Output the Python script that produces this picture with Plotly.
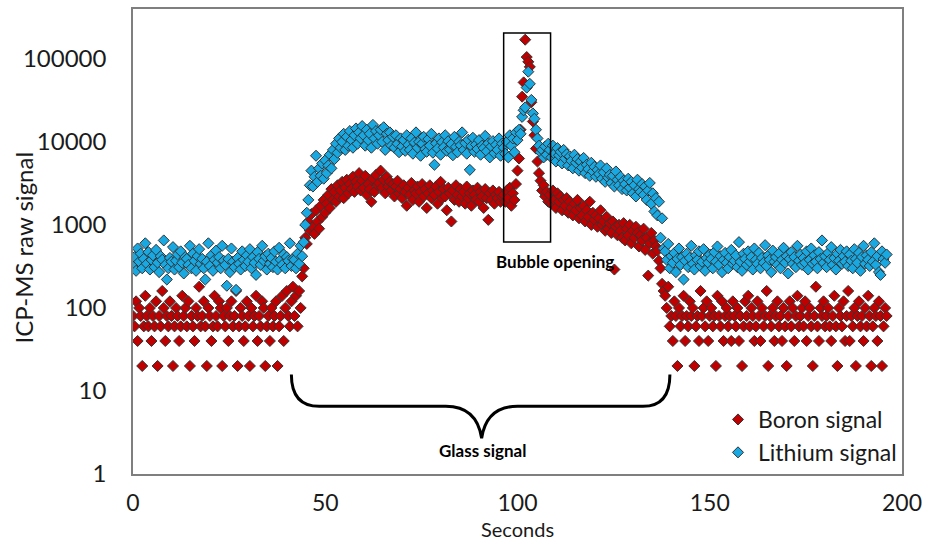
import plotly.graph_objects as go

# ---------------- data ----------------
# sampling grid: one reading every 0.4 s from 0 to 196 s
seconds = [round(i * 0.4, 1) for i in range(491)]

# Lithium signal, background before ablation (0 - 41.6 s)
li_background_1 = [
    320, 410, 280, 520, 360, 450, 300, 390, 600, 340, 470, 290, 380, 430, 310,
    500, 350, 270, 420, 380, 650, 330, 220, 300, 400, 360, 540, 290, 370, 440,
    310, 480, 350, 260, 410, 390, 330, 560, 300, 450, 370, 280, 420, 510, 340,
    390, 300, 220, 360, 600, 320, 430, 280, 380, 490, 350, 410, 300, 560, 370,
    330, 185, 390, 270, 520, 360, 310, 165, 400, 340, 290, 480, 380, 320, 430,
    360, 510, 300, 410, 350, 250, 470, 390, 330, 560, 370, 420, 290, 450, 340,
    400, 310, 480, 360, 290, 530, 380, 330, 440, 300, 410, 370, 600, 320, 390,
]
# Boron signal, background before ablation (0 - 41.6 s)
b_background_1 = [
    80, 60, 120, 40, 100, 80, 20, 60, 140, 80, 60, 100, 40, 80, 60,
    120, 20, 80, 60, 160, 100, 40, 80, 60, 120, 80, 20, 60, 100, 80,
    40, 60, 140, 80, 100, 60, 120, 20, 80, 60, 40, 100, 80, 180, 60,
    80, 120, 60, 20, 100, 80, 40, 60, 140, 80, 60, 120, 100, 20, 80,
    60, 100, 40, 80, 120, 60, 80, 160, 20, 60, 100, 80, 40, 60, 120,
    80, 20, 100, 60, 80, 140, 40, 80, 60, 120, 100, 20, 60, 80, 40,
    100, 60, 80, 120, 20, 60, 80, 140, 40, 100, 160, 80, 60, 120, 180,
]

# Glass signal (42.0 - 96.0 s)
li_glass = [
    380, 300, 450, 340, 560, 420, 620, 1000, 1400, 2000,
    3000, 4500, 2900, 3800, 6800, 3300, 4800, 3900, 5500, 3600,
    6000, 4200, 5200, 7000, 4800, 8000, 6200, 9500, 7400, 11000,
    8500, 10000, 12500, 8000, 11500, 9000, 13500, 10500, 8500, 12000,
    14500, 9500, 13000, 11000, 15500, 12000, 9000, 14000, 10500, 12500,
    8500, 16000, 11000, 13500, 9500, 12000, 14000, 10000, 15000, 8000,
    12500, 10500, 13000, 9000, 11500, 8500, 12000, 9500, 7500, 11000,
    8800, 10500, 7800, 12000, 9200, 8000, 11000, 7200, 9800, 13000,
    8500, 10000, 6800, 9500, 11500, 8200, 7600, 10800, 9000, 12500,
    7400, 5300, 9600, 8300, 11000, 7000, 9900, 8600, 12000, 7800,
    10200, 8100, 9400, 6900, 11500, 8700, 7500, 10000, 9100, 13000,
    8000, 9700, 7200, 10600, 4600, 8900, 11200, 7600, 9300, 8200,
    10500, 7000, 9000, 8400, 11800, 7700, 9600, 6500, 8800, 10200,
    7300, 9200, 8000, 11000, 6800, 9500,
]
b_glass = [
    80, 140, 60, 160, 100, 240, 300, 700, 590, 1100,
    850, 1350, 950, 780, 1500, 1100, 900, 1700, 1250, 2000,
    1400, 1800, 2300, 1600, 2700, 2000, 2500, 1900, 3000, 2200,
    2600, 3300, 2100, 2800, 3500, 2400, 3100, 2700, 3800, 2500,
    3300, 2900, 4200, 2600, 3400, 2800, 3900, 2300, 3100, 2700,
    1900, 3600, 2500, 4000, 3000, 3200, 4500, 2800, 3500, 2400,
    3800, 2900, 3300, 2600, 3100, 2200, 2900, 3400, 2400, 2700,
    2100, 3000, 2500, 1700, 2800, 2300, 3200, 2000, 2600, 2400,
    2900, 1900, 2500, 3100, 2200, 2700, 1600, 2400, 3000, 2100,
    2600, 2300, 2900, 1800, 2500, 3300, 2100, 2700, 2200, 1500,
    2800, 2400, 1100, 2600, 2000, 3000, 2300, 1900, 2700, 2200,
    2500, 1800, 2900, 2100, 2400, 1700, 2600, 2300, 2000, 2800,
    1900, 2500, 2200, 1600, 2700, 2100, 1150, 2400, 2000, 2600,
    1800, 2300, 2100, 2500, 1900, 2200,
]

# Bubble opening (96.4 - 108.0 s)
li_bubble = [
    8500, 7200, 10000, 6500, 12000, 9000, 11000, 7500, 13000, 10500,
    14000, 12500, 20000, 24000, 26000, 45000, 70000, 50000, 32000, 22000,
    19000, 14000, 11000, 9000, 7500, 8000, 6500, 8800, 7000, 9500,
]
b_bubble = [
    2300, 1900, 2600, 2100, 2800, 1700, 2400, 2000, 3100, 4500,
    6300, 14000, 35000, 52000, 170000, 105000, 92000, 80000, 30000, 17600,
    12000, 8300, 5800, 4200, 3400, 2600, 3000, 2200, 2500, 1900,
]

# Decay after the bubble (108.4 - 138.0 s)
li_decay = [
    8000, 6500, 9000, 7200, 5800, 8400, 6900, 7600, 5500, 8000,
    6300, 7100, 5200, 6700, 5900, 4800, 7000, 5600, 6200, 4500,
    5800, 4900, 6400, 4200, 5300, 4700, 3900, 5600, 4400, 5000,
    3800, 4600, 4100, 5200, 3600, 4300, 3300, 4800, 3700, 4000,
    3200, 3900, 2900, 4400, 3500, 3000, 3800, 2700, 3400, 3100,
    2600, 3600, 2800, 3300, 2400, 3000, 2200, 3500, 2700, 2500,
    3100, 2300, 2900, 2000, 2600, 3200, 1800, 2400, 1450, 2100,
    1300, 1900, 700, 1200, 520,
]
b_decay = [
    2300, 1800, 2600, 2000, 1600, 2400, 1900, 2200, 1500, 2000,
    1700, 2100, 1400, 1900, 1600, 1300, 1800, 1500, 2000, 1200,
    1600, 1300, 1700, 1100, 1500, 1250, 1900, 1000, 1400, 1150,
    1300, 950, 1200, 1500, 1000, 1100, 850, 1250, 900, 1050,
    800, 1100, 290, 950, 750, 1000, 850, 700, 1050, 650,
    900, 750, 1000, 600, 850, 700, 950, 800, 550, 750,
    650, 900, 500, 700, 245, 600, 800, 450, 650, 550,
    490, 370, 300, 195, 160,
]

# Background after ablation (138.4 - 196.0 s)
li_background_2 = [
    480, 380, 590, 300, 420, 350, 460, 270, 390, 520, 330, 410, 220, 370, 450,
    310, 400, 560, 340, 290, 430, 380, 480, 320, 360, 510, 280, 400, 350, 440,
    390, 300, 470, 360, 550, 330, 420, 270, 380, 460, 350, 300, 410, 500, 340,
    370, 430, 310, 620, 360, 280, 450, 390, 330, 480, 360, 410, 290, 520, 380,
    340, 460, 300, 400, 350, 570, 320, 430, 380, 270, 490, 360, 410, 330, 450,
    300, 380, 530, 350, 420, 260, 390, 470, 340, 410, 310, 560, 370, 440, 330,
    400, 350, 480, 290, 380, 520, 340, 430, 360, 300, 470, 390, 650, 350, 420,
    310, 460, 380, 540, 330, 400, 290, 450, 370, 500, 340, 420, 360, 480, 320,
    440, 370, 300, 510, 390, 350, 460, 280, 410, 560, 340, 430, 380, 320, 470,
    360, 600, 330, 420, 270, 250, 480, 390, 350, 440,
]
b_background_2 = [
    140, 100, 180, 60, 80, 40, 120, 80, 20, 100, 60, 80, 140, 40, 80,
    60, 120, 80, 100, 20, 60, 80, 40, 160, 80, 100, 60, 120, 40, 80,
    100, 60, 80, 20, 140, 80, 60, 120, 40, 80, 100, 60, 80, 40, 120,
    80, 60, 100, 40, 80, 20, 60, 120, 80, 140, 60, 100, 80, 40, 60,
    120, 80, 40, 100, 60, 80, 160, 20, 80, 60, 100, 40, 80, 120, 60,
    80, 40, 100, 60, 20, 80, 120, 60, 100, 40, 80, 140, 60, 80, 100,
    60, 120, 40, 80, 100, 60, 20, 80, 180, 60, 40, 100, 80, 120, 60,
    80, 100, 60, 40, 80, 140, 60, 20, 100, 80, 60, 120, 40, 80, 160,
    40, 80, 60, 100, 20, 80, 120, 60, 80, 40, 100, 60, 140, 80, 20,
    60, 100, 80, 40, 120, 80, 20, 60, 100, 80,
]

lithium = li_background_1 + li_glass + li_bubble + li_decay + li_background_2
boron = b_background_1 + b_glass + b_bubble + b_decay + b_background_2

series_names = ["Boron signal", "Lithium signal"]
x_ticks = [0, 50, 100, 150, 200]
y_ticks = [1, 10, 100, 1000, 10000, 100000]
y_tick_labels = ["1", "10", "100", "1000", "10000", "100000"]

# ---------------- figure ----------------
FONT = "Lato, 'Open Sans', sans-serif"
W, H = 929, 540
ML, MR, MT, MB = 133, 24, 7, 66

fig = go.Figure()
fig.add_trace(go.Scatter(
    x=seconds, y=boron, mode="markers", name=series_names[0],
    marker=dict(symbol="diamond", size=8.5, color="#C00000",
                line=dict(color="#333333", width=1)),
))
fig.add_trace(go.Scatter(
    x=seconds, y=lithium, mode="markers", name=series_names[1],
    marker=dict(symbol="diamond", size=8.5, color="#18A9E2",
                line=dict(color="#333333", width=1)),
))

pw = W - ML - MR
ph = H - MT - MB


def px_x(px):
    return (px - ML) / pw


def px_y(py):
    return (H - MB - py) / ph


# bubble box
fig.add_shape(type="rect", xref="x", yref="paper",
              x0=96.4, x1=108.6, y0=px_y(241), y1=px_y(31),
              line=dict(color="black", width=1.5))

# curly brace under the glass signal
bx = lambda p: (p - ML) / pw * 200
path = (
    f"M {bx(292)},{px_y(374)} Q {bx(292)},{px_y(406)} {bx(320)},{px_y(406)} "
    f"L {bx(447)},{px_y(406)} Q {bx(478)},{px_y(406)} {bx(483)},{px_y(438)} "
    f"Q {bx(488)},{px_y(406)} {bx(519)},{px_y(406)} "
    f"L {bx(645)},{px_y(406)} Q {bx(672)},{px_y(406)} {bx(672)},{px_y(374)}"
)
fig.add_shape(type="path", xref="x", yref="paper", path=path,
              line=dict(color="black", width=3))

fig.add_annotation(text="<b>Bubble opening</b>", xref="paper", yref="paper",
                   x=px_x(557), y=px_y(261), showarrow=False,
                   xanchor="center", yanchor="middle",
                   font=dict(family=FONT, size=17, color="black"))
fig.add_annotation(text="<b>Glass signal</b>", xref="paper", yref="paper",
                   x=px_x(484), y=px_y(450), showarrow=False,
                   xanchor="center", yanchor="middle",
                   font=dict(family=FONT, size=17, color="black"))

# axis titles
fig.add_annotation(text="Seconds", xref="paper", yref="paper",
                   x=px_x(519), y=px_y(529), showarrow=False,
                   xanchor="center", yanchor="middle",
                   font=dict(family=FONT, size=20, color="#1a1a1a"))
fig.add_annotation(text="ICP-MS raw signal", xref="paper", yref="paper",
                   x=px_x(24), y=px_y(246), showarrow=False, textangle=-90,
                   xanchor="center", yanchor="middle",
                   font=dict(family=FONT, size=24, color="#1a1a1a"))

fig.update_layout(
    width=W, height=H,
    margin=dict(l=ML, r=MR, t=MT, b=MB),
    paper_bgcolor="white", plot_bgcolor="white",
    font=dict(family=FONT, size=24, color="#1a1a1a"),
    showlegend=True,
    legend=dict(x=1, y=0, xanchor="right", yanchor="bottom",
                bgcolor="rgba(0,0,0,0)", font=dict(family=FONT, size=23),
                itemsizing="trace"),
    xaxis=dict(range=[0, 200], tickvals=x_ticks, showgrid=False, zeroline=False,
               showline=True, linecolor="#7f7f7f", linewidth=1.5, mirror=True,
               ticks="", ticklabelstandoff=8, tickfont=dict(size=23)),
    yaxis=dict(type="log", range=[0, 5.6], tickvals=y_ticks, ticktext=y_tick_labels,
               showgrid=False, zeroline=False, showline=True, linecolor="#7f7f7f",
               linewidth=1.5, mirror=True, ticks="", ticklabelstandoff=20,
               tickfont=dict(size=24)),
)

fig.write_html("out.html")
